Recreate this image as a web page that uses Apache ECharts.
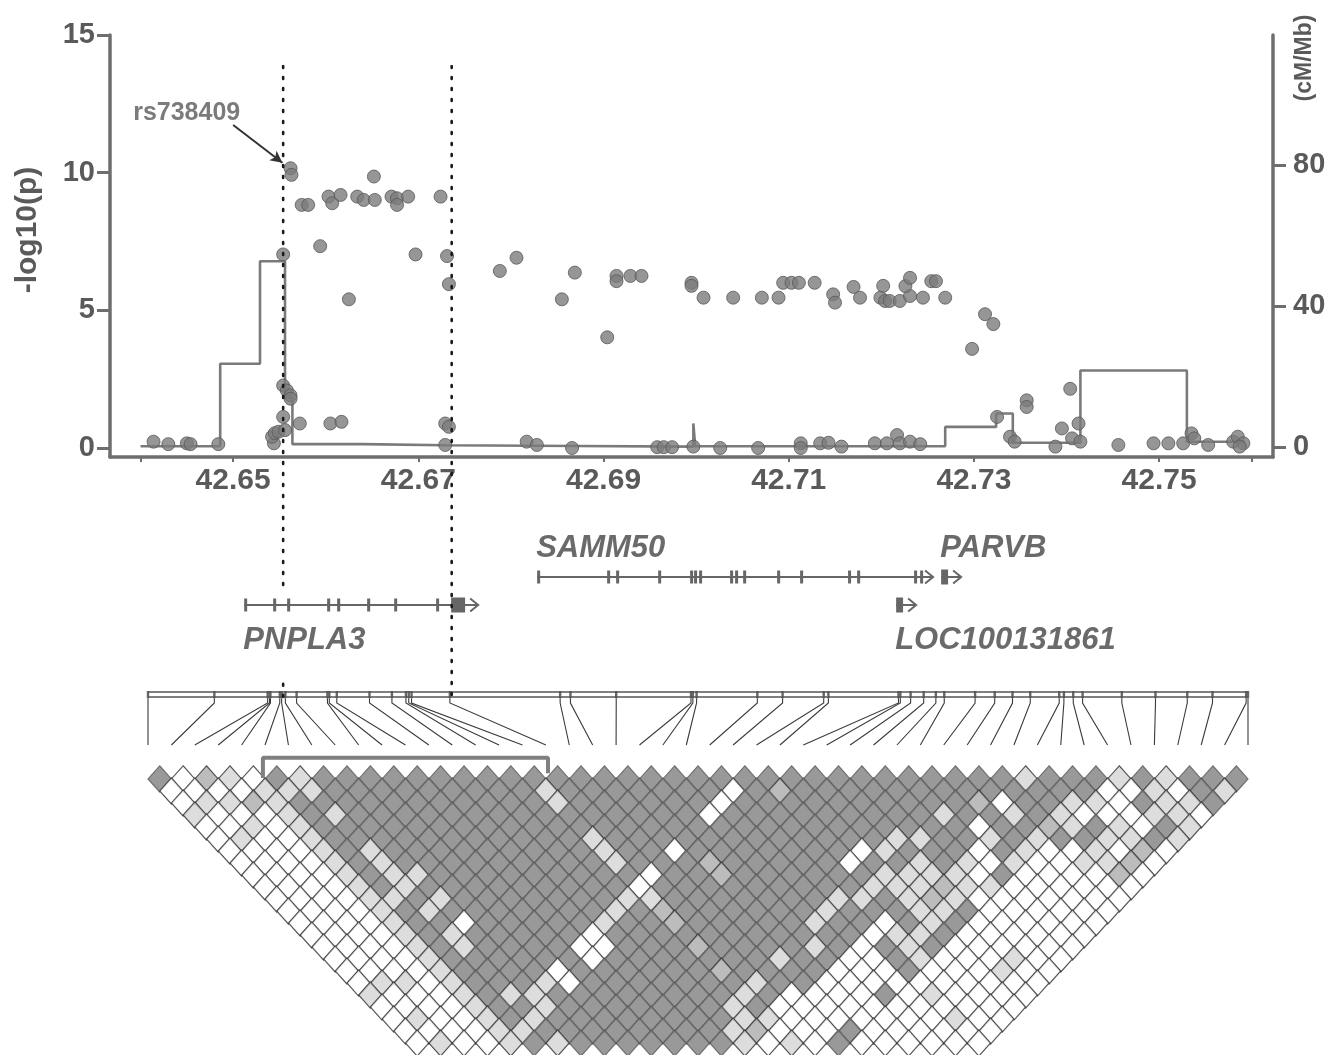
<!DOCTYPE html>
<html><head><meta charset="utf-8">
<script src="https://cdn.jsdelivr.net/npm/echarts@6/dist/echarts.min.js"></script>
<style>html,body{margin:0;padding:0;background:#fff}#c{width:1338px;height:1055px}</style>
</head><body><div id="c"></div>
<script>
// ---------------- DATA ----------------
const assocPos = [42.6414,42.6430,42.6450,42.6454,42.6484,42.6544,42.6542,42.6545,42.6549,42.6556,42.6554,42.6554,42.6562,42.6563,42.6554,42.6558,42.6562,42.6562,42.6572,42.6574,42.6581,42.6594,42.6603,42.6607,42.6616,42.6605,42.6617,42.6625,42.6634,42.6641,42.6653,42.6652,42.6671,42.6677,42.6677,42.6689,42.6697,42.6724,42.6731,42.6733,42.6729,42.6733,42.6729,42.6788,42.6806,42.6817,42.6828,42.6855,42.6869,42.6866,42.6904,42.6914,42.6914,42.6929,42.6941,42.6958,42.6965,42.6974,42.6995,42.6995,42.7008,42.6997,42.7026,42.7040,42.7067,42.7071,42.7089,42.7094,42.7103,42.7111,42.7113,42.7113,42.7128,42.7134,42.7143,42.7148,42.7150,42.7157,42.7170,42.7177,42.7193,42.7199,42.7204,42.7202,42.7209,42.7220,42.7231,42.7226,42.7231,42.7245,42.7254,42.7259,42.7269,42.7298,42.7312,42.7321,42.7206,42.7217,42.7220,42.7231,42.7242,42.7325,42.7339,42.7344,42.7357,42.7357,42.7388,42.7395,42.7404,42.7406,42.7413,42.7415,42.7456,42.7494,42.7510,42.7526,42.7535,42.7538,42.7553,42.7580,42.7585,42.7591,42.7587];
const assocLogP = [0.23,0.14,0.17,0.14,0.14,0.17,0.41,0.54,0.59,0.65,1.13,7.03,10.16,9.92,2.27,2.09,1.91,1.79,0.89,8.83,8.83,7.33,9.13,8.89,9.19,0.89,0.95,5.40,9.13,9.01,9.01,9.86,9.13,9.07,8.83,9.13,7.03,9.13,6.97,5.95,0.89,0.77,0.11,6.43,6.91,0.23,0.11,5.40,6.37,0.00,4.02,6.25,6.06,6.25,6.25,0.03,0.03,0.03,6.00,5.89,5.46,0.05,0.00,5.46,0.00,5.46,5.46,6.00,6.00,6.00,0.17,0.00,6.00,0.17,0.19,5.58,5.28,0.05,5.85,5.46,0.17,5.46,5.34,5.89,5.34,5.34,5.52,5.88,6.18,5.46,6.06,6.06,5.46,3.60,4.86,4.50,0.17,0.47,0.17,0.23,0.14,1.13,0.41,0.23,1.73,1.49,0.05,0.71,2.15,0.35,0.89,0.23,0.11,0.17,0.17,0.17,0.53,0.35,0.11,0.23,0.41,0.17,0.05];

const recPos  = [42.6400,42.6486,42.6529,42.6556,42.6564,42.6640,42.6729,42.6870,42.6997,42.6999,42.7269,42.7324,42.7342,42.7415,42.7530,42.7593];
const recRate = [0.2,23.6,52.7,14.0,0.8,0.5,0.3,0.1,6.7,0.2,5.7,9.5,1.2,21.7,1.5,1.5];

const xTickLabels = [42.65,42.67,42.69,42.71,42.73,42.75];
const xTickMarks  = [42.64,42.65,42.67,42.69,42.71,42.73,42.75,42.76];
const leftTicks   = [0,5,10,15];
const rightTicks  = [0,40,80];

const leadSnp = 'rs738409';
const leadSnpPos = 42.6554;
const leadSnpLogP = 10.16;
const markerPos = [42.6554, 42.6736];

const geneNames = ['PNPLA3','SAMM50','PARVB','LOC100131861'];
const geneRow   = [1,0,0,1];
const geneLabelSide = ['below','above','above','below'];
const geneStart = [42.65119,42.68283,42.72646,42.72160];
const geneTip   = [42.67646,42.72559,42.72862,42.72376];
const geneExons = [
  [[42.65119,42.65151],[42.65432,42.65464],[42.65583,42.65616],[42.66015,42.66048],[42.66123,42.66156],[42.66447,42.66480],[42.66739,42.66771],[42.67192,42.67224],[42.67354,42.67505]],
  [[42.68283,42.68315],[42.69039,42.69071],[42.69136,42.69168],[42.69590,42.69622],[42.69935,42.69967],[42.69978,42.70010],[42.70032,42.70064],[42.70367,42.70399],[42.70421,42.70453],[42.70508,42.70540],[42.70875,42.70907],[42.71123,42.71155],[42.71641,42.71673],[42.71739,42.71771],[42.72354,42.72386],[42.72419,42.72451]],
  [[42.72646,42.72721]],
  [[42.72160,42.72235]]
];

// SNP positions (Mb) of the 48 markers in the LD plot
const snpPos = [42.6414,42.6485,42.6542,42.6544,42.6545,42.6555,42.6557,42.6561,42.6573,42.6606,42.6608,42.6616,42.6651,42.6675,42.6690,42.6693,42.6696,42.6737,42.6855,42.6866,42.6915,42.6995,42.6997,42.7001,42.7066,42.7093,42.7137,42.7142,42.7217,42.7219,42.7230,42.7244,42.7257,42.7266,42.7299,42.7320,42.7339,42.7358,42.7389,42.7394,42.7404,42.7414,42.7456,42.7492,42.7526,42.7553,42.7589,42.7591];

// LD levels (0 white, 1 light, 2 medium, 3 dark); row k = marker distance k+1, char i = first marker
const ldRows = [
  "3021031"+"333333333333333333333333333333"+"1333"+"131333",
  "0000111"+"333333333"+"1"+"3333333"+"0"+"3"+"2"+"3333333333333"+"001031",
  "01121"+"33333333333"+"1"+"333333"+"0"+"3333333333"+"20331103113",
  "1000131"+"333333333333333"+"0"+"333333333"+"133131000110",
  "00101"+"3333333333333333333333333333"+"0332131031",
  "01001"+"33333333333"+"1"+"333333333333"+"1133131331131",
  "0000131"+"333333333"+"1"+"33"+"0"+"3333333"+"0"+"1333031001020",
  "0000131"+"333333333"+"1"+"333"+"2"+"33333"+"0"+"3"+"313101001120",
  "00001311"+"333333333"+"0"+"33"+"2"+"333333"+"111103000020",
  "0000131"+"333333333"+"0"+"333333333"+"111211"+"000000",
  "000011"+"3"+"1"+"3333333"+"11"+"3333333"+"113121"+"0000000",
  "0000131"+"3333333"+"1"+"3"+"2"+"333333"+"1"+"333"+"11"+"3"+"000000",
  "0000133"+"0"+"33333"+"1"+"33"+"2"+"33333"+"1"+"33"+"0"+"3"+"1"+"3"+"000000",
  "0000131"+"33333"+"0"+"33333333333"+"0113"+"000000",
  "0000131"+"3333"+"00"+"333"+"2"+"3333"+"1"+"3"+"0"+"3"+"1"+"3"+"000000",
  "00001"+"333333"+"0"+"3333333"+"1"+"33"+"00"+"3"+"1"+"000"+"1"+"00",
  "00001"+"3333"+"0"+"333333"+"2"+"3333"+"000"+"3"+"000"+"1"+"00",
  "01101"+"333"+"1"+"0"+"3333333"+"1"+"33"+"0000"+"000000",
  "10001311"+"33333333"+"1"+"3"+"0000"+"3"+"010000",
  "00001331"+"3333333"+"1"+"3"+"00000"+"000000",
  "01001"+"3"+"1"+"33333333"+"1"+"1"+"0000"+"000"+"1"+"00",
  "000011"+"3"+"3333333"+"12"+"000"+"3"+"000000",
  "01001"+"3"+"1"+"3333333"+"1"+"0"+"1"+"0"+"3"+"000000"
];
const blockRange = [5,17];

// ---------------- STYLE / LAYOUT ----------------
const FONT = '"Liberation Sans", Arial, sans-serif';
const AX = '#6e6e6e';
const TXT = '#5a5a5a';
const ldColors = ['#ffffff','#d4d4d4','#ababab','#808080'];
const nSnp = snpPos.length;
const XMIN = 42.6367, XMAX = 42.7623;
const cellW = 23.4, cellH = 26.2;

const chart = echarts.init(document.getElementById('c'), null, {renderer:'canvas', width:1338, height:1055});

const ldData = [];
ldRows.forEach((row, r) => {
  const d = r + 1;
  for (let i = 0; i < row.length; i++) {
    const lv = +row[i];
    ldData.push({value:[i + d/2, d], itemStyle:{color: ldColors[lv], borderColor: lv === 3 ? '#5a5a5a' : '#2e2e2e'}});
  }
});

const snpIdxPos = snpPos.map((p,k) => [(p - snpPos[0])/(snpPos[nSnp-1]-snpPos[0])*(nSnp-1), k]);

const markerSeries = [];
const markerSegs = [[[0,0.83],[0.979,1]], [[0,1]]];
markerPos.forEach((x, m) => {
  markerSegs[m].forEach(seg => {
    markerSeries.push({
      type:'line', xAxisIndex:1, yAxisIndex:2, data:[[x,seg[0]],[x,seg[1]]],
      symbol:'none', silent:true, z:5,
      lineStyle:{color:'#1a1a1a', width:2.6, type:[2,9], cap:'round'}
    });
  });
});

const option = {
  animation:false,
  textStyle:{fontFamily:FONT},
  grid:[
    {left:110, width:1163, top:35, height:422},
    {left:110, width:1163, top:66, height:631},
    {left:110, width:1163, top:563, height:56},
    {left:148, width:1100, top:688, height:60},
    {left:148, width:1100, top:768 - cellH/2, height:25*cellH/2}
  ],
  xAxis:[
    {type:'value', gridIndex:0, min:XMIN, max:XMAX,
     axisLine:{onZero:false, lineStyle:{color:AX, width:3.5}},
     axisTick:{show:true, customValues:xTickMarks, length:5, lineStyle:{color:AX, width:2}},
     axisLabel:{customValues:xTickLabels, formatter:v=>v.toFixed(2), fontSize:30, fontWeight:'bold', color:TXT, margin:9, fontFamily:FONT},
     splitLine:{show:false}},
    {type:'value', gridIndex:1, min:XMIN, max:XMAX, show:false},
    {type:'value', gridIndex:2, min:XMIN, max:XMAX, show:false},
    {type:'value', gridIndex:3, min:0, max:nSnp-1, show:false},
    {type:'value', gridIndex:4, min:0, max:nSnp-1, show:false}
  ],
  yAxis:[
    {type:'value', gridIndex:0, position:'left', min:-0.327, max:15,
     axisLine:{show:true, onZero:false, lineStyle:{color:AX, width:3.5}},
     axisTick:{show:true, customValues:leftTicks, length:13, lineStyle:{color:AX, width:3}},
     axisLabel:{customValues:leftTicks, fontSize:29, fontWeight:'bold', color:TXT, margin:15, fontFamily:FONT},
     splitLine:{show:false}},
    {type:'value', gridIndex:0, position:'right', min:-2.84, max:116.9,
     axisLine:{show:true, onZero:false, lineStyle:{color:AX, width:3.5}},
     axisTick:{show:true, customValues:rightTicks, length:13, lineStyle:{color:AX, width:3}},
     axisLabel:{customValues:rightTicks, fontSize:29, fontWeight:'bold', color:TXT, margin:20, fontFamily:FONT},
     splitLine:{show:false}},
    {type:'value', gridIndex:1, min:0, max:1, inverse:true, show:false},
    {type:'value', gridIndex:2, min:0, max:2, inverse:true, show:false},
    {type:'value', gridIndex:3, min:0, max:1, inverse:true, show:false},
    {type:'value', gridIndex:4, min:-1, max:24, inverse:true, show:false}
  ],
  graphic:[
    {type:'text', x:28, y:230, rotation:Math.PI/2, style:{text:'-log10(p)', font:'bold 30px '+FONT, fill:TXT, align:'center', verticalAlign:'middle'}},
    {type:'text', x:1305, y:58, rotation:Math.PI/2, style:{text:'(cM/Mb)', font:'bold 23px '+FONT, fill:TXT, align:'center', verticalAlign:'middle'}}
  ],
  series:[
    {type:'line', name:'recomb', xAxisIndex:0, yAxisIndex:1, step:'end', symbol:'none', silent:true, z:2,
     data:recPos.map((x,k)=>[x, recRate[k]]), lineStyle:{color:'#7a7a7a', width:2.6}},
    {type:'scatter', name:'assoc', xAxisIndex:0, yAxisIndex:0, symbolSize:13, z:3, silent:true,
     data:assocPos.map((x,k)=>[x, assocLogP[k]]),
     itemStyle:{color:'#7c7c7c', borderColor:'#575757', borderWidth:1}},
    {type:'scatter', name:'label', xAxisIndex:0, yAxisIndex:0, symbolSize:0, silent:true, z:4,
     data:[[42.6392, 12.17]],
     label:{show:true, position:'right', distance:0, formatter:leadSnp, fontSize:25, fontWeight:'bold', color:TXT, fontFamily:FONT},
     markLine:{silent:true, symbol:['none','arrow'], symbolSize:[9,12], animation:false,
       lineStyle:{color:'#333', width:2, type:'solid'}, label:{show:false},
       data:[[{coord:[42.6500, 11.73]}, {coord:[leadSnpPos - 0.00008, leadSnpLogP + 0.2]}]]}},
    ...markerSeries,
    {type:'custom', name:'genes', xAxisIndex:2, yAxisIndex:3, silent:true, z:4,
     data:geneNames.map((n,k)=>[geneStart[k], geneRow[k]+0.5, k]),
     renderItem:(params, api)=>{
       const k = api.value(2);
       const y = api.coord([geneStart[k], geneRow[k]+0.5])[1];
       const x0 = api.coord([geneStart[k], 0])[0];
       const xt = api.coord([geneTip[k], 0])[0];
       const ch = [];
       ch.push({type:'line', shape:{x1:x0, y1:y, x2:xt-1, y2:y}, style:{stroke:'#666', lineWidth:2}});
       geneExons[k].forEach(([s,e])=>{
         const a = api.coord([s,0])[0], b = api.coord([e,0])[0];
         const w = Math.max(b-a, 3);
         const h = w > 6 ? 15 : 13;
         ch.push({type:'rect', shape:{x:a, y:y-h/2, width:w, height:h}, style:{fill:'#666'}});
       });
       ch.push({type:'polyline', shape:{points:[[xt-8,y-6.5],[xt,y],[xt-8,y+6.5]]}, style:{stroke:'#666', lineWidth:2, fill:null}});
       ch.push({type:'text', style:{text:geneNames[k], x:x0-1, y: geneLabelSide[k]==='above' ? y-29 : y+35,
         align:'left', verticalAlign:'middle', font:'italic bold 31px '+FONT, fill:'#6a6a6a'}});
       return {type:'group', children:ch};
     }},
    {type:'line', xAxisIndex:3, yAxisIndex:4, data:[[0,0.067],[nSnp-1,0.067]], symbol:'none', silent:true, lineStyle:{color:'#555', width:1.4}},
    {type:'line', xAxisIndex:3, yAxisIndex:4, data:[[0,0.15],[nSnp-1,0.15]], symbol:'none', silent:true, lineStyle:{color:'#555', width:1.4}},
    {type:'custom', name:'snpLinks', xAxisIndex:3, yAxisIndex:4, silent:true, z:3,
     data:snpIdxPos,
     renderItem:(params, api)=>{
       const t = api.value(0), k = api.value(1);
       const pT = api.coord([t, 0.05]);
       const pB = api.coord([t, 0.17]);
       const pM = api.coord([t, 0.25]);
       const pE = api.coord([k, 0.95]);
       return {type:'group', children:[
         {type:'rect', shape:{x:pT[0]-1.2, y:pT[1], width:2.4, height:pB[1]-pT[1]}, style:{fill:'#666'}},
         {type:'polyline', shape:{points:[pB, pM, pE]}, style:{stroke:'#3a3a3a', lineWidth:1.1, fill:null}}
       ]};
     }},
    {type:'scatter', name:'ld', xAxisIndex:4, yAxisIndex:5, symbol:'diamond', symbolSize:[cellW, cellH],
     data:ldData, silent:true, clip:false, progressive:0, z:2,
     itemStyle:{borderWidth:1.2}},
    {type:'line', name:'block', xAxisIndex:4, yAxisIndex:5, symbol:'none', silent:true, z:6,
     data:[[blockRange[0]-0.09, 0.92],[blockRange[0]-0.09,-0.76],[blockRange[1]+0.09,-0.76],[blockRange[1]+0.09,0.53]],
     lineStyle:{color:'#808080', width:4}}
  ]
};
chart.setOption(option);
</script>
</body></html>
